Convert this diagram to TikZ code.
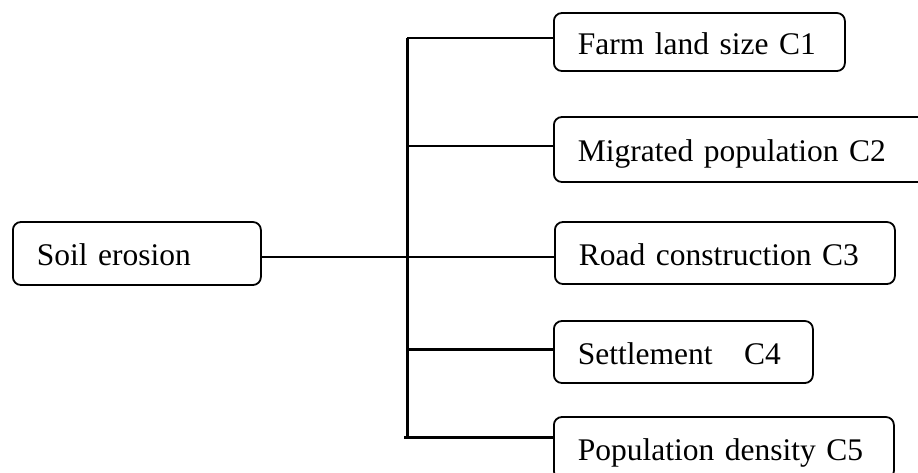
\documentclass[tikz,border=0pt]{standalone}
\usepackage{fontspec}
\setmainfont{Liberation Serif}
\begin{document}
\begin{tikzpicture}[x=1pt,y=-1pt,
  factor/.style={draw, line width=1.8pt, rounded corners=8pt, anchor=west,
    inner xsep=24pt, inner ysep=0pt, align=left,
    minimum height=62pt, text height=26pt, text depth=2pt,
    font=\fontsize{31.5}{36}\selectfont},
  thin link/.style={line width=1.8pt},
  thick link/.style={line width=3pt}]
\useasboundingbox (0,0) rectangle (918,472);
\clip (0,0) rectangle (918,472);

% goal and criteria boxes
\node[factor, text width=200pt, minimum height=63pt] (soil) at (12,253.5) {Soil erosion};
\node[factor, text width=243pt, minimum height=58pt] (c1) at (553,42) {Farm land size C1};
\node[factor, text width=332pt, minimum height=65pt] (c2) at (553,149.5) {Migrated population C2};
\node[factor, text width=292pt] (c3) at (554,253) {Road construction C3};
\node[factor, text width=211pt] (c4) at (553,352) {Settlement\ \ \ C4};
\node[factor, text width=292pt] (c5) at (553,448) {Population density C5};

% branch points on the vertical bar
\coordinate (b1) at (407,38);
\coordinate (b2) at (407,146);
\coordinate (b3) at (407,257);
\coordinate (b4) at (407,349);
\coordinate (b5) at (407,437);
\coordinate (b5l) at (404,437);

% vertical bar
\draw[thick link] (b1) -- (b5);

% branches
\draw[thin link] (b1) -- (b1 -| c1.west);
\draw[thin link] (b2) -- (b2 -| c2.west);
\draw[thin link] (b3 -| soil.east) -- (b3 -| c3.west);
\draw[thick link] (b4) -- (b4 -| c4.west);
\draw[thick link] (b5l) -- (b5 -| c5.west);
\end{tikzpicture}
\end{document}
